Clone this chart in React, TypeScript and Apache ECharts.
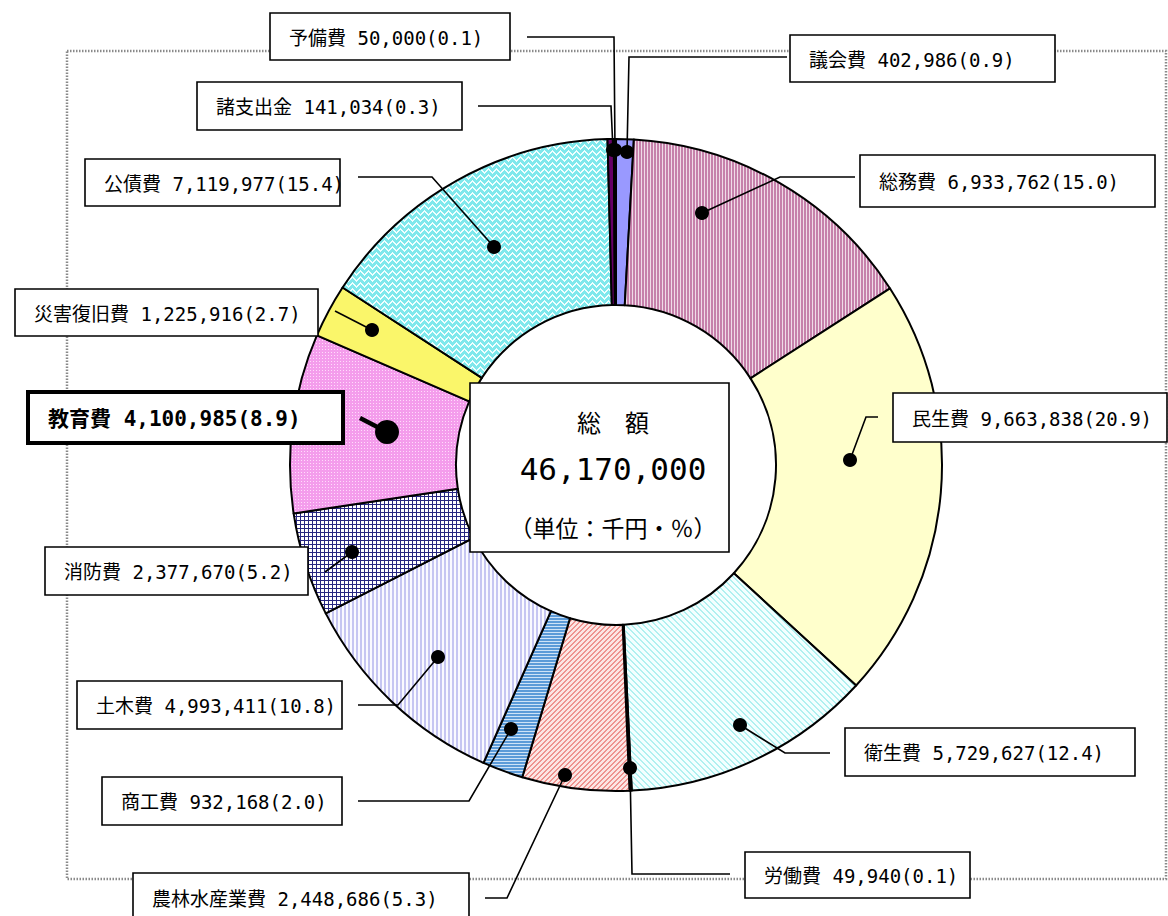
import React, { useEffect, useRef } from "react";
import * as echarts from "echarts";

// ---- data ----
const categories = [
  "議会費", "総務費", "民生費", "衛生費", "労働費", "農林水産業費", "商工費",
  "土木費", "消防費", "教育費", "災害復旧費", "公債費", "諸支出金", "予備費",
];
const amounts = [
  402986, 6933762, 9663838, 5729627, 49940, 2448686, 932168,
  4993411, 2377670, 4100985, 1225916, 7119977, 141034, 50000,
];
const percents = [
  "0.9", "15.0", "20.9", "12.4", "0.1", "5.3", "2.0",
  "10.8", "5.2", "8.9", "2.7", "15.4", "0.3", "0.1",
];
const centerTitle = "総　額";
const totalLabel = "46,170,000";
const unitLabel = "（単位：千円・％）";
const highlighted = "教育費";

// ---- layout of annotation boxes / leader lines (pixels) ----
const boxes: number[][] = [
  [790, 35, 265, 47],
  [860, 155, 295, 52],
  [893, 393, 274, 49],
  [845, 728, 290, 48],
  [745, 852, 225, 46],
  [133, 873, 336, 50],
  [102, 777, 240, 48],
  [77, 681, 265, 48],
  [45, 547, 263, 48],
  [28, 392, 315, 51],
  [15, 289, 303, 47],
  [85, 159, 255, 47],
  [197, 82, 265, 48],
  [270, 13, 240, 47],
];
const leaders: number[][][] = [
  [[787, 57], [629, 57], [627, 152]],
  [[855, 177], [780, 177], [702, 213]],
  [[878, 417], [866, 417], [850, 460]],
  [[830, 753], [785, 753], [740, 725]],
  [[730, 874], [632, 874], [630, 768]],
  [[485, 898], [507, 898], [565, 775]],
  [[358, 801], [469, 801], [511, 729]],
  [[358, 705], [398, 705], [438, 657]],
  [[325, 572], [352, 552]],
  [[360, 418], [387, 432]],
  [[335, 311], [372, 330]],
  [[358, 177], [432, 177], [494, 247]],
  [[478, 106], [611, 106], [613, 150]],
  [[527, 37], [614, 37], [615, 150]],
];

function makePattern(w: number, h: number, fn: (x: number, y: number) => string) {
  const c = document.createElement("canvas");
  c.width = w;
  c.height = h;
  const ctx = c.getContext("2d")!;
  for (let y = 0; y < h; y++) {
    for (let x = 0; x < w; x++) {
      ctx.fillStyle = fn(x, y);
      ctx.fillRect(x, y, 1, 1);
    }
  }
  return { image: c, repeat: "repeat" } as any;
}

function buildFills(): any[] {
  const tri = [0, 1, 2, 3, 4, 3, 2, 1];
  return [
    "#9999FF",
    makePattern(3, 3, (x) => (x === 2 ? "#F0DCE8" : "#C681AB")),
    "#FFFFCC",
    makePattern(6, 6, (x, y) => ((x - y + 12) % 6 < 2 ? "#B0F0F0" : "#F3FFFF")),
    "#2F4F4F",
    makePattern(5, 5, (x, y) => ((x + y) % 5 < 2 ? "#EE9490" : "#FCE6E4")),
    makePattern(4, 3, (x, y) => (y === 2 ? "#CFE3F7" : "#5C9BD8")),
    makePattern(4, 4, (x) => (x < 2 ? "#C6C6F2" : "#FAFAFF")),
    makePattern(4, 4, (x, y) => (x === 0 || y === 0 ? "#262680" : "#FFFFFF")),
    makePattern(3, 3, (x, y) => (x === 1 && y === 1 ? "#FFDCFB" : "#F49DEC")),
    "#FAF66A",
    makePattern(8, 6, (x, y) => {
      const t = tri[x];
      return y === t || y === (t + 1) % 6 ? "#F0FFFF" : "#7FE8EC";
    }),
    "#660066",
    "#2A002A",
  ];
}

const fmt = (v: number) => v.toLocaleString("en-US");
const LABEL_FONT = '19px "DejaVu Sans Mono", "Noto Sans CJK JP", sans-serif';
const BOLD_FONT = 'bold 21px "DejaVu Sans Mono", "Noto Sans CJK JP", sans-serif';

export default function App() {
  const ref = useRef<HTMLDivElement>(null);

  useEffect(() => {
    if (!ref.current) return;
    const chart = echarts.init(ref.current, null, { renderer: "svg" });
    const fills = buildFills();

    const graphics: any[] = [];
    // outer frame
    graphics.push({
      type: "rect",
      z: 0,
      shape: { x: 67, y: 51, width: 1099, height: 828 },
      style: { fill: "none", stroke: "#8a8a8a", lineWidth: 2.5, lineDash: [1.5, 1.5] },
    });

    categories.forEach((name, i) => {
      const [bx, by, bw, bh] = boxes[i];
      const pts = leaders[i];
      const isHi = name === highlighted;
      const dot = pts[pts.length - 1];
      graphics.push({
        type: "polyline",
        z: 20,
        shape: { points: pts },
        style: { fill: "none", stroke: "#000", lineWidth: isHi ? 4.5 : 1.6 },
      });
      graphics.push({
        type: "circle",
        z: 21,
        shape: { cx: dot[0], cy: dot[1], r: isHi ? 12 : 7 },
        style: { fill: "#000" },
      });
      graphics.push({
        type: "rect",
        z: 22,
        shape: { x: bx, y: by, width: bw, height: bh },
        style: { fill: "#fff", stroke: "#000", lineWidth: isHi ? 4 : 1.6 },
      });
      graphics.push({
        type: "text",
        z: 23,
        style: {
          text: `${name} ${fmt(amounts[i])}(${percents[i]})`,
          x: bx + (isHi ? 20 : 19),
          y: by + bh / 2 + 1,
          font: isHi ? BOLD_FONT : LABEL_FONT,
          fill: "#000",
          align: "left",
          verticalAlign: "middle",
        },
      });
    });

    // center box
    graphics.push({
      type: "rect",
      z: 22,
      shape: { x: 470, y: 383, width: 259, height: 169 },
      style: { fill: "#fff", stroke: "#000", lineWidth: 1.6 },
    });
    graphics.push({
      type: "text",
      z: 23,
      style: {
        text: centerTitle, x: 613, y: 421,
        font: '24px "Noto Sans CJK JP", sans-serif', fill: "#000",
        align: "center", verticalAlign: "middle",
      },
    });
    graphics.push({
      type: "text",
      z: 23,
      style: {
        text: totalLabel, x: 613, y: 469,
        font: '31px "DejaVu Sans Mono", sans-serif', fill: "#000",
        align: "center", verticalAlign: "middle",
      },
    });
    graphics.push({
      type: "text",
      z: 23,
      style: {
        text: unitLabel, x: 613, y: 527,
        font: '23px "Noto Sans CJK JP", sans-serif', fill: "#000",
        align: "center", verticalAlign: "middle",
      },
    });

    chart.setOption({
      animation: false,
      backgroundColor: "#fff",
      graphic: { elements: graphics },
      series: [
        {
          type: "pie",
          z: 5,
          center: [616, 465],
          radius: [160, 326],
          startAngle: 90,
          clockwise: true,
          silent: true,
          avoidLabelOverlap: false,
          label: { show: false },
          labelLine: { show: false },
          emphasis: { disabled: true },
          itemStyle: { borderColor: "#000", borderWidth: 2 },
          data: categories.map((name, i) => ({
            name,
            value: amounts[i],
            itemStyle: { color: fills[i] },
          })),
        },
      ],
    });
    return () => chart.dispose();
  }, []);

  return (
    <div
      ref={ref}
      style={{ position: "fixed", left: 0, top: 0, width: 1168, height: 916, background: "#fff" }}
    />
  );
}
